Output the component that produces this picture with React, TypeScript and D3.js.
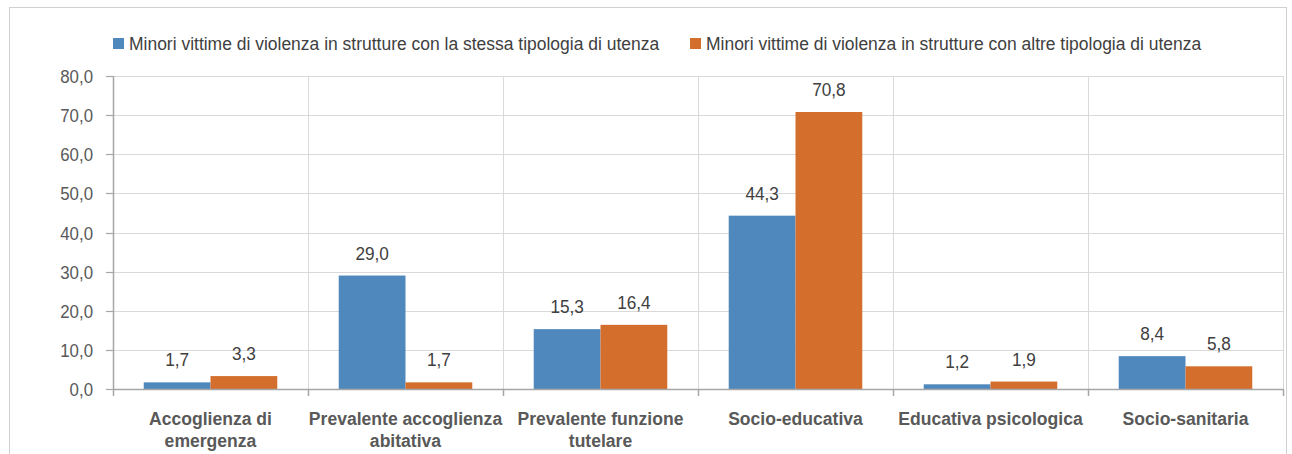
import React, { useEffect, useRef } from "react";
import * as d3 from "d3";

const categories = [
  ["Accoglienza di", "emergenza"],
  ["Prevalente accoglienza", "abitativa"],
  ["Prevalente funzione", "tutelare"],
  ["Socio-educativa"],
  ["Educativa psicologica"],
  ["Socio-sanitaria"],
];
const seriesNames = [
  "Minori vittime di violenza in strutture con la stessa tipologia di utenza",
  "Minori vittime di violenza in strutture con altre tipologia di utenza",
];
const sameType = [1.7, 29.0, 15.3, 44.3, 1.2, 8.4];
const otherType = [3.3, 1.7, 16.4, 70.8, 1.9, 5.8];
const colors = ["#4f88bd", "#d46e2c"];
const yTicks = [0, 10, 20, 30, 40, 50, 60, 70, 80];

const FONT = "'Liberation Sans', Arial, sans-serif";
const fmt = (v: number) => v.toFixed(1).replace(".", ",");

// narrow-looking text: a group scaled horizontally
function label(parent: any, x: number, y: number, str: string, opts: any = {}) {
  const g = parent.append("g").attr("transform", `translate(${x},${y}) scale(${opts.sx ?? 0.93},1)`);
  return g.append("text")
    .attr("text-anchor", opts.anchor ?? "middle")
    .attr("font-family", FONT)
    .attr("font-size", opts.size ?? 18.5)
    .attr("font-weight", opts.weight ?? "normal")
    .attr("fill", opts.fill ?? "#404040")
    .text(str);
}

export default function App() {
  const svgRef = useRef<SVGSVGElement>(null);

  useEffect(() => {
    const svg = d3.select(svgRef.current);
    svg.selectAll("*").remove();
    const width = 1292;
    const height = 454;
    const margin = { top: 76, right: 9, bottom: 65, left: 113 };

    const keys = categories.map((c) => c.join(" "));
    const x0 = d3.scaleBand().domain(keys).range([margin.left, width - margin.right]);
    const x1 = d3.scaleBand().domain(["0", "1"]).range([0, x0.bandwidth()]).paddingOuter(0.46);
    const y = d3.scaleLinear().domain([0, 80]).range([height - margin.bottom, margin.top]);

    // outer frame
    svg.append("rect").attr("x", 9.5).attr("y", 7.5).attr("width", 1277).attr("height", 460)
      .attr("fill", "none").attr("stroke", "#d0d0d0");

    // horizontal grid
    svg.append("g").selectAll("line").data(yTicks.slice(1)).enter().append("line")
      .attr("x1", margin.left).attr("x2", width - margin.right)
      .attr("y1", (d) => Math.round(y(d)) + 0.5).attr("y2", (d) => Math.round(y(d)) + 0.5)
      .attr("stroke", "#d9d9d9");
    // vertical grid
    const bounds = keys.map((k) => x0(k)!).concat([width - margin.right]);
    svg.append("g").selectAll("line").data(bounds.slice(1)).enter().append("line")
      .attr("x1", (d) => Math.round(d) + 0.5).attr("x2", (d) => Math.round(d) + 0.5)
      .attr("y1", margin.top).attr("y2", y(0))
      .attr("stroke", "#d9d9d9");

    // y axis
    const ya = svg.append("g");
    ya.append("line").attr("x1", margin.left + 0.5).attr("x2", margin.left + 0.5)
      .attr("y1", y(80)).attr("y2", y(0)).attr("stroke", "#a6a6a6").attr("stroke-width", 1.5);
    yTicks.forEach((t) => {
      const yy = Math.round(y(t)) + 0.5;
      ya.append("line").attr("x1", margin.left - 7).attr("x2", margin.left).attr("y1", yy).attr("y2", yy)
        .attr("stroke", "#a6a6a6").attr("stroke-width", 1.2);
      label(ya, 93, yy + 6.5, fmt(t), { anchor: "end", sx: 0.91, fill: "#595959" });
    });

    // bars
    const series = [sameType, otherType];
    series.forEach((vals, si) => {
      svg.append("g").selectAll("rect").data(vals).enter().append("rect")
        .attr("x", (d, i) => x0(keys[i])! + x1(String(si))!)
        .attr("y", (d) => y(d))
        .attr("width", x1.bandwidth())
        .attr("height", (d) => y(0) - y(d))
        .attr("fill", colors[si]);
      const lg = svg.append("g");
      vals.forEach((v, i) => {
        label(lg, x0(keys[i])! + x1(String(si))! + x1.bandwidth() / 2, y(v) - 16, fmt(v));
      });
    });

    // x axis
    const xg = svg.append("g");
    xg.append("line").attr("x1", margin.left).attr("x2", width - margin.right)
      .attr("y1", y(0) + 0.5).attr("y2", y(0) + 0.5).attr("stroke", "#a6a6a6").attr("stroke-width", 1.5);
    xg.selectAll("line.tk").data(bounds).enter().append("line").attr("class", "tk")
      .attr("x1", (d) => Math.round(d) + 0.5).attr("x2", (d) => Math.round(d) + 0.5)
      .attr("y1", y(0)).attr("y2", y(0) + 7).attr("stroke", "#a6a6a6").attr("stroke-width", 1.5);
    categories.forEach((lines, i) => {
      lines.forEach((l, li) => {
        label(xg, x0(keys[i])! + x0.bandwidth() / 2, 425 + li * 22, l,
          { weight: "bold", sx: 0.95, fill: "#595959" });
      });
    });

    // legend
    const legendX = [113, 690];
    seriesNames.forEach((name, si) => {
      const g = svg.append("g").attr("transform", `translate(${legendX[si]},38)`);
      g.append("rect").attr("width", 11).attr("height", 11).attr("fill", colors[si]);
      label(g, 16, 12, name, { anchor: "start", sx: 0.945 });
    });
  }, []);

  return (
    <svg ref={svgRef} width={1292} height={454}
      style={{ position: "absolute", left: 0, top: 0, background: "#fff" }} />
  );
}
